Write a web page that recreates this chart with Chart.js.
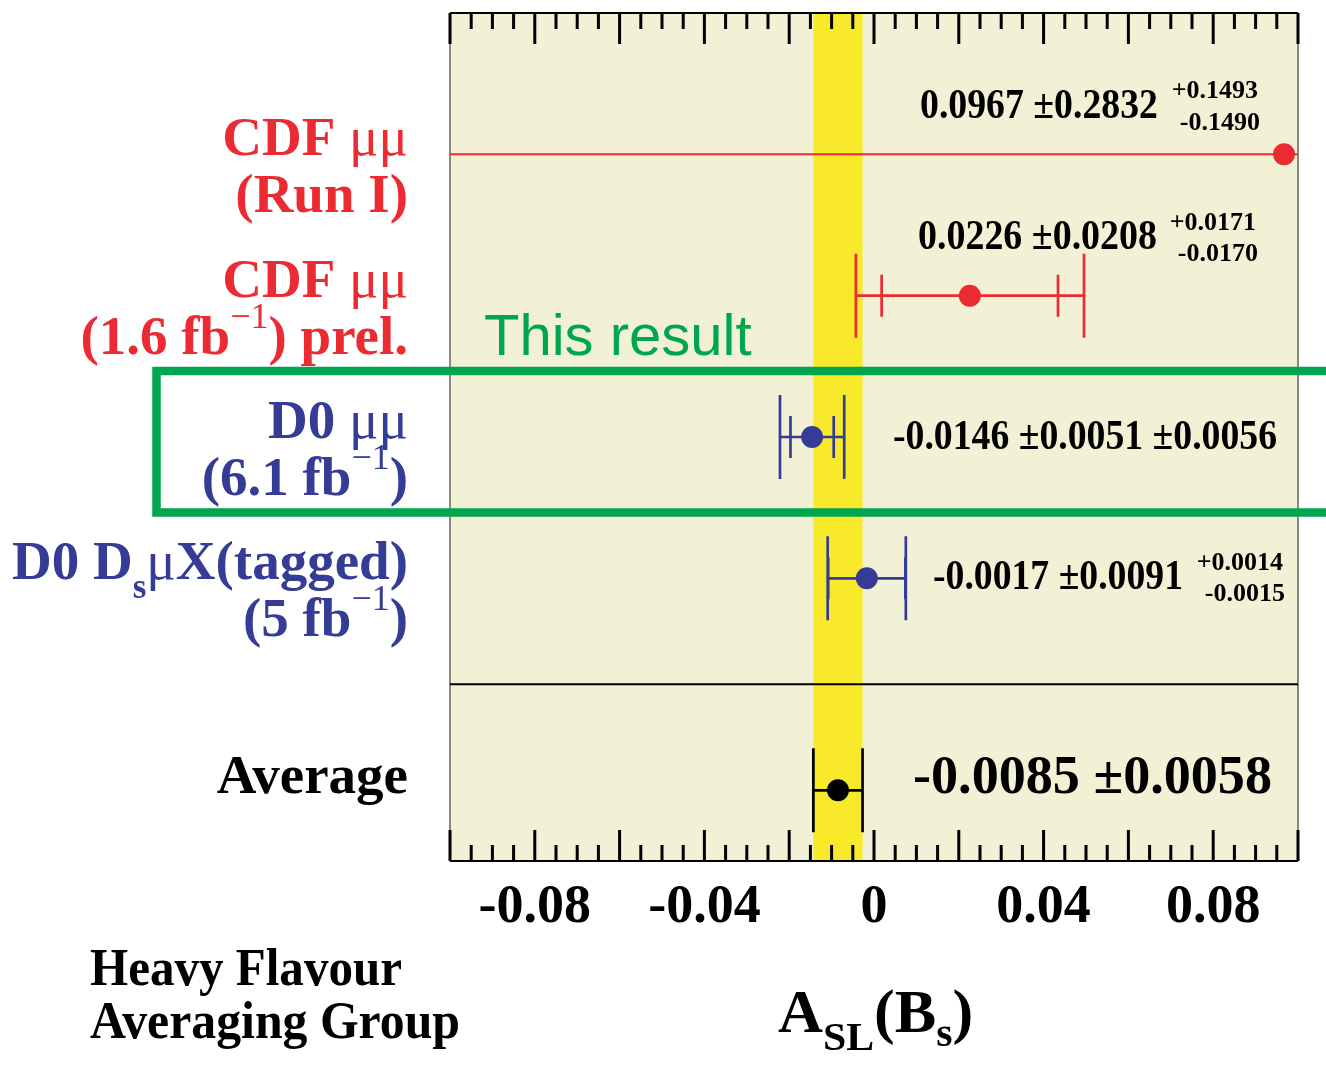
<!DOCTYPE html>
<html>
<head>
<meta charset="utf-8">
<script src="https://cdn.jsdelivr.net/npm/chart.js@4.4.1/dist/chart.umd.min.js"></script>
<style>
html, body { margin: 0; padding: 0; background: #fff; overflow: hidden; }
canvas { display: block; }
</style>
</head>
<body>
<canvas id="chart" width="1326" height="1067"></canvas>
<script>
"use strict";

// measurements, one entry per row (top to bottom)
var rows = [1, 2, 3, 4, 5.5];
var values = [0.0967, 0.0226, -0.0146, -0.0017, -0.0085];
var statErr = [0.2832, 0.0208, 0.0051, 0.0091, 0.0058];
var systUp = [0.1493, 0.0171, 0.0056, 0.0014, 0];
var systDown = [0.1490, 0.0170, 0.0056, 0.0015, 0];
var colors = ["#ec2a32", "#ec2a32", "#343c96", "#343c96", "#000000"];
var separatorRow = 4.75;
var averageIndex = 4;

// axis
var xTicks = [-0.08, -0.04, 0, 0.04, 0.08];
var xTickLabels = ["-0.08", "-0.04", "0", "0.04", "0.08"];

// texts
var valueText = ["0.0967 \u00b10.2832", "0.0226 \u00b10.0208", "-0.0146 \u00b10.0051 \u00b10.0056", "-0.0017 \u00b10.0091", "-0.0085 \u00b10.0058"];
var systUpText = ["+0.1493", "+0.0171", "", "+0.0014", ""];
var systDownText = ["-0.1490", "-0.0170", "", "-0.0015", ""];
var rowLabels = [
    [[["CDF ", "b"], ["\u03bc\u03bc", "m"]], [["(Run I)", "b"]]],
    [[["CDF ", "b"], ["\u03bc\u03bc", "m"]], [["(1.6 fb", "b"], ["\u22121", "sup"], [") prel.", "b"]]],
    [[["D0 ", "b"], ["\u03bc\u03bc", "m"]], [["(6.1 fb", "b"], ["\u22121", "sup"], [")", "b"]]],
    [[["D0 D", "b"], ["s", "sub"], ["\u03bc", "m"], ["X(tagged)", "b"]], [["(5 fb", "b"], ["\u22121", "sup"], [")", "b"]]],
    [[["Average", "b"]]]
];

// where the value texts sit: x in pixels, dy from the row centre, target width
var valueLayout = [
    { x: 920, dy: -36, w: 238, size: 42, supX: 1258, supDy: -56, subX: 1260, subDy: -24 },
    { x: 918, dy: -47, w: 239, size: 42, supX: 1256, supDy: -66, subX: 1258, subDy: -35 },
    { x: 893, dy: 12, w: 384, size: 42 },
    { x: 933, dy: 11, w: 250, size: 42, supX: 1283, supDy: -8, subX: 1285, subDy: 23 },
    { x: 913, dy: 3, w: 359, size: 54 }
];

var SERIF = "'Liberation Serif', 'Times New Roman', serif";
var labelStyles = {
    b: { font: "bold 55px " + SERIF, dy: 0 },
    m: { font: "55px " + SERIF, dy: 0 },
    sup: { font: "36px " + SERIF, dy: -26 },
    sub: { font: "bold 35px " + SERIF, dy: 19 },
    t: { font: "bold 61px " + SERIF, dy: 0 },
    ts: { font: "bold 41px " + SERIF, dy: 18 },
    ts2: { font: "bold 41px " + SERIF, dy: 14 }
};

function fitText(ctx, str, x, y, font, color, width) {
    ctx.save();
    ctx.font = font;
    ctx.fillStyle = color;
    ctx.textAlign = "left";
    ctx.textBaseline = "alphabetic";
    var w = ctx.measureText(str).width;
    var sx = width ? width / w : 1;
    ctx.translate(x, y);
    ctx.scale(sx, 1);
    ctx.fillText(str, 0, 0);
    ctx.restore();
}

function drawRich(ctx, segs, x, y, color, alignRight, sx) {
    sx = sx || 1;
    var total = 0;
    segs.forEach(function (s) {
        ctx.font = labelStyles[s[1]].font;
        total += ctx.measureText(s[0]).width * sx;
    });
    var cx = alignRight ? x - total : x;
    ctx.fillStyle = color;
    ctx.textAlign = "left";
    ctx.textBaseline = "alphabetic";
    segs.forEach(function (s) {
        var st = labelStyles[s[1]];
        ctx.font = st.font;
        ctx.save();
        ctx.translate(cx, y + st.dy);
        ctx.scale(sx, 1);
        ctx.fillText(s[0], 0, 0);
        ctx.restore();
        cx += ctx.measureText(s[0]).width * sx;
    });
}

var hfagPlugin = {
    id: "hfag",
    beforeDraw: function (chart) {
        var ctx = chart.ctx, a = chart.chartArea;
        var xs = chart.scales.x;
        ctx.save();
        ctx.fillStyle = "#ffffff";
        ctx.fillRect(0, 0, chart.width, chart.height);
        ctx.fillStyle = "#f3f1d5";
        ctx.fillRect(a.left, a.top, a.right - a.left, a.bottom - a.top);
        // average band
        var avg = values[averageIndex], err = statErr[averageIndex];
        var bl = xs.getPixelForValue(avg - err), br = xs.getPixelForValue(avg + err);
        ctx.fillStyle = "#f8e92b";
        ctx.fillRect(bl, a.top, br - bl, a.bottom - a.top);
        ctx.restore();
    },
    beforeDatasetsDraw: function (chart) {
        var ctx = chart.ctx, a = chart.chartArea;
        var xs = chart.scales.x, ys = chart.scales.y;
        ctx.save();

        // frame
        ctx.strokeStyle = "#666";
        ctx.lineWidth = 1.5;
        ctx.beginPath();
        ctx.moveTo(a.left, a.top); ctx.lineTo(a.left, a.bottom);
        ctx.moveTo(a.right, a.top); ctx.lineTo(a.right, a.bottom);
        ctx.stroke();
        ctx.strokeStyle = "#000";
        ctx.lineWidth = 2;
        ctx.beginPath();
        ctx.moveTo(a.left, a.top); ctx.lineTo(a.right, a.top);
        ctx.moveTo(a.left, a.bottom); ctx.lineTo(a.right, a.bottom);
        ctx.stroke();

        // ticks top and bottom, minor every 0.005, major every 0.02
        ctx.lineWidth = 3;
        ctx.beginPath();
        for (var k = -20; k <= 20; k++) {
            var px = xs.getPixelForValue(k * 0.005);
            var len = (k % 4 === 0) ? 31 : 16;
            ctx.moveTo(px, a.top); ctx.lineTo(px, a.top + len);
            ctx.moveTo(px, a.bottom); ctx.lineTo(px, a.bottom - len);
        }
        ctx.stroke();

        // separator above the average
        var sy = ys.getPixelForValue(separatorRow);
        ctx.lineWidth = 2;
        ctx.beginPath();
        ctx.moveTo(a.left, sy); ctx.lineTo(a.right, sy);
        ctx.stroke();

        // error bars
        ctx.beginPath();
        ctx.rect(a.left, a.top, a.right - a.left, a.bottom - a.top);
        ctx.clip();
        values.forEach(function (v, i) {
            var y = ys.getPixelForValue(rows[i]);
            var up = Math.sqrt(statErr[i] * statErr[i] + systUp[i] * systUp[i]);
            var dn = Math.sqrt(statErr[i] * statErr[i] + systDown[i] * systDown[i]);
            var xl = xs.getPixelForValue(v - dn), xr = xs.getPixelForValue(v + up);
            ctx.strokeStyle = colors[i];
            ctx.lineWidth = i === 0 ? 2 : 2.7;
            ctx.beginPath();
            ctx.moveTo(xl, y); ctx.lineTo(xr, y);
            ctx.moveTo(xl, y - 42); ctx.lineTo(xl, y + 42);
            ctx.moveTo(xr, y - 42); ctx.lineTo(xr, y + 42);
            if (systUp[i] > 0) {
                var il = xs.getPixelForValue(v - statErr[i]), ir = xs.getPixelForValue(v + statErr[i]);
                ctx.moveTo(il, y - 21); ctx.lineTo(il, y + 21);
                ctx.moveTo(ir, y - 21); ctx.lineTo(ir, y + 21);
            }
            ctx.stroke();
        });
        ctx.restore();
    },
    afterDatasetsDraw: function (chart) {
        var ctx = chart.ctx;
        var xs = chart.scales.x, ys = chart.scales.y;
        ctx.save();

        // row labels
        rowLabels.forEach(function (lines, i) {
            var y = ys.getPixelForValue(rows[i]);
            lines.forEach(function (segs, j) {
                drawRich(ctx, segs, 408, y + 1 + j * 57 + (i === averageIndex ? 2 : 0), colors[i], true);
            });
        });

        // value texts
        valueText.forEach(function (t, i) {
            var L = valueLayout[i];
            var y = ys.getPixelForValue(rows[i]);
            fitText(ctx, t, L.x, y + L.dy, "bold " + L.size + "px " + SERIF, "#000", L.w);
            if (systUpText[i]) {
                ctx.font = "bold 26px " + SERIF;
                ctx.fillStyle = "#000";
                ctx.textAlign = "right";
                ctx.fillText(systUpText[i], L.supX, y + L.supDy);
                ctx.fillText(systDownText[i], L.subX, y + L.subDy);
            }
        });

        // x tick labels
        ctx.font = "bold 54px " + SERIF;
        ctx.fillStyle = "#000";
        ctx.textAlign = "center";
        ctx.textBaseline = "alphabetic";
        xTicks.forEach(function (v, i) {
            ctx.fillText(xTickLabels[i], xs.getPixelForValue(v), 922);
        });

        // axis title A_SL(B_s)
        drawRich(ctx, [["A", "t"], ["SL", "ts"], ["(B", "t"], ["s", "ts2"], [")", "t"]], 778, 1032, "#000", false, 1.02);

        // group name
        fitText(ctx, "Heavy Flavour", 90, 985, "bold 52px " + SERIF, "#000", 312);
        fitText(ctx, "Averaging Group", 90, 1038, "bold 52px " + SERIF, "#000", 370);

        // highlight
        ctx.font = "58px 'Liberation Sans', Arial, sans-serif";
        ctx.fillStyle = "#00a64f";
        ctx.textAlign = "left";
        ctx.fillText("This result", 484, 355);
        ctx.strokeStyle = "#00a64f";
        ctx.lineWidth = 8.5;
        ctx.strokeRect(156.5, 371, chart.width, 141.5);
        ctx.restore();
    }
};

new Chart(document.getElementById("chart"), {
    type: "scatter",
    data: {
        datasets: [{
            data: values.map(function (v, i) { return { x: v, y: rows[i] }; }),
            pointRadius: 11,
            pointHoverRadius: 11,
            pointBackgroundColor: colors,
            pointBorderWidth: 0,
            borderWidth: 0
        }]
    },
    options: {
        responsive: false,
        animation: false,
        events: [],
        layout: { padding: { left: 450, right: 28, top: 13, bottom: 206 } },
        plugins: {
            legend: { display: false },
            tooltip: { enabled: false }
        },
        scales: {
            x: { type: "linear", min: -0.1, max: 0.1, display: false },
            y: { type: "linear", min: 0, max: 6, reverse: true, display: false }
        }
    },
    plugins: [hfagPlugin]
});
</script>
</body>
</html>
